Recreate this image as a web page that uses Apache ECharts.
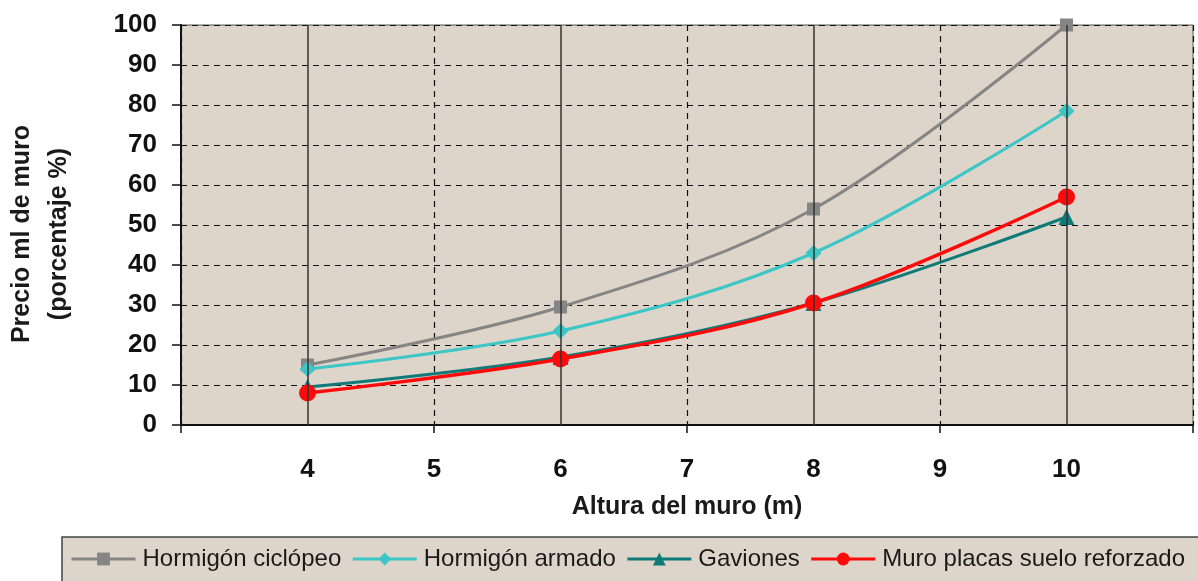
<!DOCTYPE html>
<html>
<head>
<meta charset="utf-8">
<script src="https://cdn.jsdelivr.net/npm/echarts@6/dist/echarts.min.js"></script>
<style>
  html, body { margin: 0; padding: 0; background: #ffffff; }
  #chart { width: 1198px; height: 581px; }
</style>
</head>
<body>
<div id="chart"></div>
<script>
// Wall height (m) and relative price per linear metre (%)
const heights = [4, 6, 8, 10];
const hormigonCiclopeo = [15, 29.5, 54, 100];
const hormigonArmado = [14, 23.5, 43, 78.5];
const gaviones = [9.5, 17, 30.5, 52];
const muroPlacas = [8, 16.5, 30.5, 57];

const seriesNames = ['Hormigón ciclópeo', 'Hormigón armado', 'Gaviones', 'Muro placas suelo reforzado'];
const xTitle = 'Altura del muro (m)';
const yTitle = 'Precio ml de muro\n(porcentaje %)';

const FONT = '"Liberation Sans", Arial, sans-serif';
const pairs = vals => heights.map((h, i) => [h, vals[i]]);

function lineSeries(name, vals, color, symbol, size, width) {
  return {
    name: name,
    type: 'line',
    xAxisIndex: 0,
    data: pairs(vals),
    smooth: 0.35,
    symbol: symbol,
    symbolSize: size,
    z: 3,
    itemStyle: { color: color },
    lineStyle: { color: color, width: width },
    emphasis: { disabled: true }
  };
}

const chart = echarts.init(document.getElementById('chart'), null, { renderer: 'canvas' });
chart.setOption({
  animation: false,
  backgroundColor: '#ffffff',
  grid: {
    left: 181, right: 5, top: 25, bottom: 156,
    containLabel: false,
    outerBoundsMode: 'none',
    show: true,
    backgroundColor: '#ddd5c9',
    borderColor: '#555555',
    borderWidth: 1
  },
  legend: {
    data: seriesNames,
    left: 62, top: 537,
    width: 1300,
    padding: [10, 60, 20, 8],
    itemGap: 10,
    itemWidth: 64,
    itemHeight: 16,
    backgroundColor: '#ddd5c9',
    borderColor: '#444444',
    borderWidth: 1.5,
    borderRadius: 0,
    lineStyle: { width: 3 },
    textStyle: { fontFamily: FONT, fontSize: 24, color: '#1a1a1a', padding: [0, 0, 0, 2] }
  },
  xAxis: [
    {
      type: 'value',
      min: 3, max: 11, interval: 1,
      position: 'bottom',
      name: xTitle,
      nameLocation: 'middle',
      nameGap: 70,
      nameTextStyle: { fontFamily: FONT, fontSize: 25, fontWeight: 'bold', color: '#1a1a1a' },
      axisLine: { show: true, onZero: false, lineStyle: { color: '#111111', width: 2 } },
      axisTick: { show: false },
      splitLine: { show: false },
      axisLabel: {
        margin: 32,
        fontFamily: FONT, fontSize: 26, fontWeight: 'bold', color: '#111111',
        formatter: v => (v === 3 || v === 11) ? '' : String(v)
      }
    },
    {
      type: 'value',
      min: 3, max: 11, interval: 2,
      position: 'bottom',
      axisLine: { show: false },
      axisLabel: { show: false },
      axisTick: { show: true, inside: false, length: 8, lineStyle: { color: '#111111', width: 1.5 } },
      splitLine: { show: true, lineStyle: { color: '#111111', width: 1.2, type: [6, 5] } }
    }
  ],
  yAxis: {
    type: 'value',
    min: 0, max: 100, interval: 10,
    name: yTitle,
    nameLocation: 'middle',
    nameRotate: 90,
    nameGap: 103,
    nameTextStyle: {
      fontFamily: FONT, fontSize: 25, fontWeight: 'bold', color: '#1a1a1a',
      lineHeight: 37, align: 'center', padding: [0, 18, 0, 0]
    },
    axisLine: { show: true, lineStyle: { color: '#111111', width: 2 } },
    axisTick: { show: true, length: 9, lineStyle: { color: '#111111', width: 1.5 } },
    splitLine: { show: true, lineStyle: { color: '#111111', width: 1.2, type: [6, 5] } },
    axisLabel: { margin: 24, fontFamily: FONT, fontSize: 26, fontWeight: 'bold', color: '#111111' }
  },
  series: [
    {
      // solid verticals at the measured wall heights
      name: 'grid-heights',
      type: 'line',
      xAxisIndex: 0,
      data: [],
      z: 1,
      markLine: {
        silent: true,
        symbol: ['none', 'none'],
        label: { show: false },
        lineStyle: { color: '#333333', width: 1.5, type: 'solid' },
        emphasis: { disabled: true },
        data: heights.map(h => ({ xAxis: h }))
      }
    },
    lineSeries(seriesNames[0], hormigonCiclopeo, '#858585', 'rect', 13, 3),
    lineSeries(seriesNames[1], hormigonArmado, '#3cc6c6', 'diamond', 16, 3),
    lineSeries(seriesNames[2], gaviones, '#0f7a77', 'triangle', 16, 3),
    lineSeries(seriesNames[3], muroPlacas, '#ff0a0a', 'circle', 17, 3.5)
  ]
});
</script>
</body>
</html>
